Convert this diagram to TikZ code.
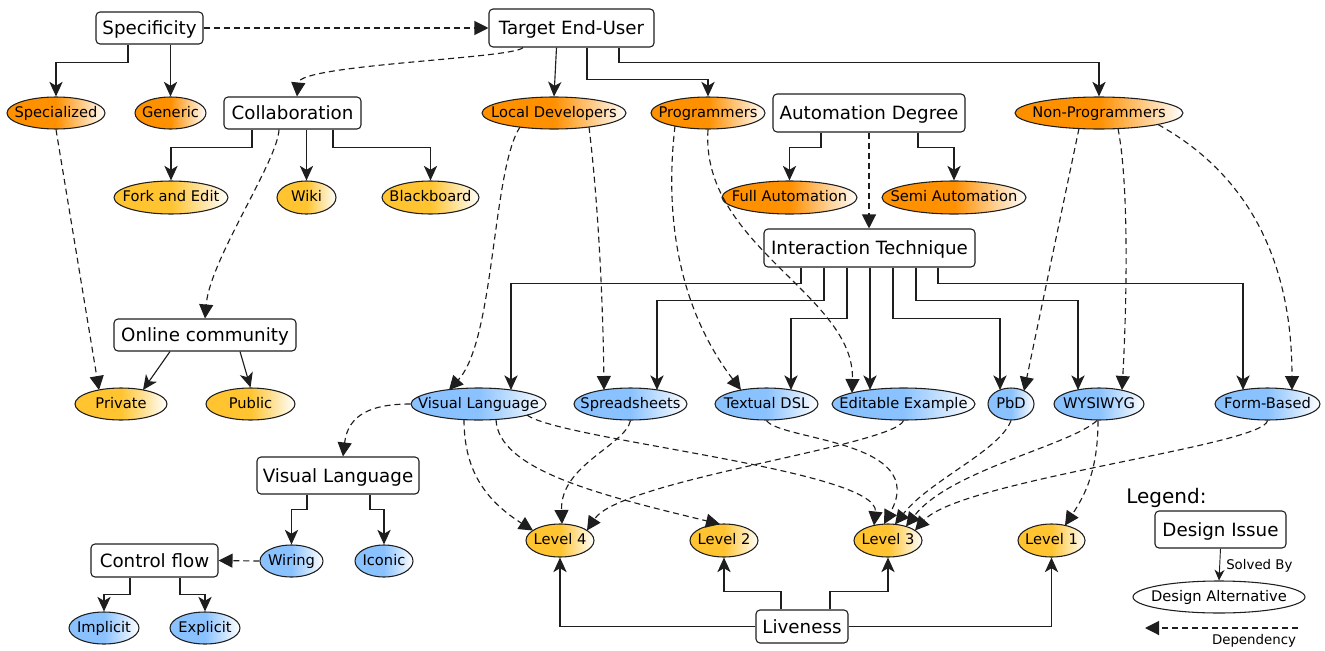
\documentclass[tikz,border=0pt]{standalone}
\usepackage{fontspec}
\setmainfont{DejaVu Sans}
\usetikzlibrary{arrows.meta,shapes.geometric,calc}
\definecolor{orng}{RGB}{255,144,0}
\definecolor{ylw}{RGB}{255,196,48}
\definecolor{blu}{RGB}{138,194,255}
\definecolor{ln}{RGB}{30,30,30}
\pgfdeclarehorizontalshading{orgshade}{100bp}{color(0bp)=(orng); color(50bp)=(orng); color(75bp)=(white); color(100bp)=(white)}
\pgfdeclarehorizontalshading{ylwshade}{100bp}{color(0bp)=(ylw); color(50bp)=(ylw); color(75bp)=(white); color(100bp)=(white)}
\pgfdeclarehorizontalshading{blushade}{100bp}{color(0bp)=(blu); color(50bp)=(blu); color(75bp)=(white); color(100bp)=(white)}
\newcommand\pxu{0.75pt}
\tikzset{
  ibox/.style={draw=ln, line width=0.8pt, rounded corners=3pt, fill=white, inner sep=0pt,
    font=\fontsize{13.7}{16}\selectfont, text height=10.4pt, text depth=0pt, minimum height=32*\pxu},
  alt/.style={ellipse, draw=ln, line width=0.8pt, inner xsep=-90pt, inner ysep=-30pt,
    minimum height=32*\pxu, font=\fontsize{11}{13}\selectfont, text height=6.2pt, text depth=0pt},
  org/.style={alt, shade, shading=orgshade},
  ylwn/.style={alt, shade, shading=ylwshade},
  blun/.style={alt, shade, shading=blushade},
  sarr/.style={draw=ln, line width=0.85pt, -{Stealth[length=11pt,width=10pt,inset=3pt]}},
  darr/.style={draw=ln, line width=0.85pt, dash pattern=on 4.5pt off 3pt, -{Triangle[length=10.5pt,width=10.5pt]}},
}
\begin{document}
\begin{tikzpicture}[x=0.75pt,y=-0.75pt]
\useasboundingbox (0,0) rectangle (1325,650);
% ---- design issues (boxes)
\node[ibox, minimum width=107*\pxu] (spec) at (149.5,28) {Specificity};
\node[ibox, minimum width=165*\pxu, minimum height=38*\pxu] (teu) at (571.5,28) {Target End-User};
\node[ibox, minimum width=137*\pxu] (collab) at (292.5,113) {Collaboration};
\node[ibox, minimum width=192*\pxu, minimum height=38*\pxu] (auto) at (869,113) {Automation Degree};
\node[ibox, minimum width=211*\pxu, minimum height=38*\pxu] (it) at (869.5,248) {Interaction Technique};
\node[ibox, minimum width=182*\pxu] (online) at (205,335) {Online community};
\node[ibox, minimum width=162*\pxu, minimum height=37*\pxu] (vlbox) at (338,475.5) {Visual Language};
\node[ibox, minimum width=127*\pxu, minimum height=33*\pxu] (cflow) at (154.5,560.5) {Control flow};
\node[ibox, minimum width=92*\pxu, minimum height=33*\pxu] (live) at (802,626.5) {Liveness};
% ---- alternatives (ellipses)
\node[org, minimum width=98*\pxu] (specialized) at (56,113) {Specialized};
\node[org, minimum width=71*\pxu] (generic) at (170.5,113) {Generic};
\node[org, minimum width=144*\pxu] (localdev) at (554,113) {Local Developers};
\node[org, minimum width=114*\pxu] (programmers) at (708,113) {Programmers};
\node[org, minimum width=168*\pxu] (nonprog) at (1099,113) {Non-Programmers};
\node[ylwn, minimum width=114*\pxu, minimum height=33*\pxu] (fork) at (171,197.5) {Fork and Edit};
\node[ylwn, minimum width=59*\pxu, minimum height=33*\pxu] (wiki) at (306.5,197.5) {Wiki};
\node[ylwn, minimum width=97*\pxu, minimum height=33*\pxu] (blackboard) at (430.5,197.5) {Blackboard};
\node[org, minimum width=135*\pxu, minimum height=33*\pxu] (fullauto) at (789.5,197.5) {Full Automation};
\node[org, minimum width=144*\pxu, minimum height=33*\pxu] (semiauto) at (954,197.5) {Semi Automation};
\node[ylwn, minimum width=92*\pxu] (private) at (121,404) {Private};
\node[ylwn, minimum width=89*\pxu] (public) at (250.5,404) {Public};
\node[blun, minimum width=135*\pxu] (vl) at (478.5,404) {Visual Language};
\node[blun, minimum width=113*\pxu] (spread) at (630.5,404) {Spreadsheets};
\node[blun, minimum width=103*\pxu] (tdsl) at (766.5,404) {Textual DSL};
\node[blun, minimum width=143*\pxu] (editable) at (903.5,404) {Editable Example};
\node[blun, minimum width=46*\pxu] (pbd) at (1011,404) {PbD};
\node[blun, minimum width=90*\pxu] (wysiwyg) at (1099,404) {WYSIWYG};
\node[blun, minimum width=105*\pxu] (formbased) at (1267.5,404) {Form-Based};
\node[blun, minimum width=63*\pxu] (wiring) at (291.5,561) {Wiring};
\node[blun, minimum width=58*\pxu] (iconic) at (384,561) {Iconic};
\node[blun, minimum width=70*\pxu] (implicit) at (104,628) {Implicit};
\node[blun, minimum width=70*\pxu] (explicit) at (205,628) {Explicit};
\node[ylwn, minimum width=68*\pxu, minimum height=33*\pxu] (level4) at (560,540.5) {Level 4};
\node[ylwn, minimum width=68*\pxu, minimum height=33*\pxu] (level2) at (724,540.5) {Level 2};
\node[ylwn, minimum width=68*\pxu, minimum height=33*\pxu] (level3) at (888,540.5) {Level 3};
\node[ylwn, minimum width=67*\pxu, minimum height=33*\pxu] (level1) at (1051.5,540.5) {Level 1};
% ---- legend
\node[anchor=west, inner sep=0pt, font=\fontsize{15}{18}\selectfont, text height=11pt, text depth=0pt] (legend) at (1126,496) {Legend:};
\node[ibox, minimum width=131*\pxu, minimum height=37*\pxu] (dissue) at (1220.5,529.5) {Design Issue};
\node[alt, fill=white, minimum width=172*\pxu] (dalt) at (1219,597) {Design Alternative};
\coordinate (depA) at (1298,628);
\coordinate (depB) at (1145,628);

% ---- solid edges (solved by)
\draw[sarr] ($(spec.south)+(-21.5,0)$) -- ++(0,18) -| (specialized.north);
\draw[sarr] (generic.north |- spec.south) -- (generic.north);
\draw[sarr] ($(teu.south)+(-15,0)$) -- (localdev.north);
\draw[sarr] ($(teu.south)+(15.5,0)$) -- ++(0,32) -| (programmers.north);
\draw[sarr] ($(teu.south)+(47.5,0)$) -- ++(0,15) -| (nonprog.north);
\draw[sarr] ($(collab.south)+(-40.5,0)$) -- ++(0,18) -| (fork.north);
\draw[sarr] (wiki.north |- collab.south) -- (wiki.north);
\draw[sarr] ($(collab.south)+(40.5,0)$) -- ++(0,18) -| (blackboard.north);
\draw[sarr] ($(online.south)+(-35,0)$) -- ($(private.center)+(22,-14)$);
\draw[sarr] ($(online.south)+(35,0)$) -- (public.north);
\draw[sarr] ($(auto.south)+(-48,0)$) -- ++(0,15) -| (fullauto.north);
\draw[sarr] ($(auto.south)+(49,0)$) -- ++(0,15) -| (semiauto.north);
\draw[sarr] ($(it.south)+(-68.5,0)$) -- ++(0,16) -| ($(vl.center)+(32.5,-14)$);
\draw[sarr] ($(it.south)+(-45.5,0)$) -- ++(0,33) -| ($(spread.center)+(26.5,-14)$);
\draw[sarr] ($(it.south)+(-22.5,0)$) -- ++(0,51) -| ($(tdsl.center)+(24.5,-14)$);
\coordinate (edt) at ($(editable.center)+(-33.5,-14)$);
\draw[sarr] (edt |- it.south) -- (edt);
\draw[sarr] ($(it.south)+(23.5,0)$) -- ++(0,51) -| ($(pbd.center)+(-11,-14)$);
\draw[sarr] ($(it.south)+(46.5,0)$) -- ++(0,33) -| ($(wysiwyg.center)+(-21,-14)$);
\draw[sarr] ($(it.south)+(68.5,0)$) -- ++(0,16) -| ($(formbased.center)+(-24.5,-14)$);
\draw[sarr] ($(vlbox.south)+(-31,0)$) -- ++(0,15) -| (wiring.north);
\draw[sarr] ($(vlbox.south)+(32,0)$) -- ++(0,15) -| (iconic.north);
\draw[sarr] ($(cflow.south)+(-24.5,0)$) -- ++(0,17) -| (implicit.north);
\draw[sarr] ($(cflow.south)+(25.5,0)$) -- ++(0,17) -| (explicit.north);
\draw[sarr] (live.west) -| (level4.south);
\draw[sarr] ($(live.north)+(-21,0)$) -- ++(0,-18) -| (level2.south);
\draw[sarr] ($(live.north)+(28,0)$) -- ++(0,-18) -| (level3.south);
\draw[sarr] (live.east) -| (level1.south);

% ---- dashed edges (dependencies)
\draw[darr] (spec.east) -- (teu.west);
\draw[darr] ($(teu.south)+(-48.5,0)$) .. controls +(-8,11) and +(3,-32) .. ($(collab.north)+(4.5,0)$);
\draw[darr] ($(collab.south)+(-13.5,0)$) .. controls +(-1,31) and +(5,-59) .. (online.north);
\draw[darr] (specialized.south) -- ($(private.center)+(-22,-14)$);
\draw[darr] (auto.south) -- (auto.south |- it.north);
\draw[darr] ($(localdev.center)+(-34,14)$) .. controls +(-28,43) and +(46,-50) .. ($(vl.center)+(-29.5,-14)$);
\draw[darr] ($(localdev.center)+(35,14)$) .. controls +(9,73) and +(-1,-90) .. ($(spread.center)+(-26.5,-14)$);
\draw[darr] ($(programmers.center)+(-33,13)$) .. controls +(-11,94) and +(-61,-80) .. ($(tdsl.center)+(-25.5,-14)$);
\draw[darr] (programmers.south) .. controls +(-8,116) and +(3,-98) .. ($(editable.center)+(-51.5,-11)$);
\draw[darr] ($(nonprog.center)+(-20,15.5)$) -- ($(pbd.center)+(13,-13)$);
\draw[darr] ($(nonprog.center)+(19,15.5)$) .. controls +(12,61.5) and +(4,-70) .. ($(wysiwyg.center)+(23,-14)$);
\draw[darr] ($(nonprog.center)+(59,11.5)$) .. controls +(82,45.5) and +(0,-140) .. ($(formbased.center)+(24.5,-14)$);
\draw[darr] (vl.west) .. controls +(-39,0) and +(5,-42) .. ($(vlbox.north)+(5,0)$);
\draw[darr] (wiring.west) -- (cflow.east);
\draw[darr] ($(vl.center)+(-14.5,15.5)$) .. controls +(0,50.5) and +(-48,-30.5) .. ($(level4.center)+(-27,-10)$);
\draw[darr] ($(vl.center)+(17.5,15.5)$) .. controls +(2,50.5) and +(-120,-29) .. ($(level2.center)+(-4,-16.4)$);
\draw[darr] ($(vl.center)+(48.5,11)$) .. controls +(33,25) and +(6,-55.5) .. ($(level3.center)+(-14,-15)$);
\draw[darr] (spread.south) .. controls +(-5.5,25) and +(-2,-59) .. ($(level4.center)+(2,-16.5)$);
\draw[darr] (tdsl.south) .. controls +(13.5,20) and +(46,-84) .. ($(level3.center)+(-4,-16.4)$);
\draw[darr] (editable.south) .. controls +(-8.5,25) and +(33,-50.5) .. ($(level4.center)+(27,-10)$);
\draw[darr] (pbd.south) .. controls +(-11,30) and +(35,-44.4) .. ($(level3.center)+(7,-16.1)$);
\draw[darr] ($(wysiwyg.south)+(-2,0)$) .. controls +(-27,25) and +(44,-56.5) .. ($(level3.center)+(18,-14)$);
\draw[darr] ($(wysiwyg.south)+(-1,0)$) .. controls +(0,50) and +(20,-30.5) .. ($(level1.center)+(13.5,-15)$);
\draw[darr] (formbased.south) .. controls +(-2.5,25) and +(45,-50.5) .. ($(level3.center)+(27,-10)$);

% ---- legend edges
\draw[sarr, line width=0.7pt, -{Stealth[length=8pt,width=7.5pt,inset=2.5pt]}] (dissue.south) -- (dalt.north);
\node[anchor=west, inner sep=0pt, font=\fontsize{10}{12}\selectfont, text height=7pt, text depth=0pt] (solvedby) at (1226,565) {Solved By};
\draw[darr] (depA) -- (depB);
\node[font=\fontsize{10}{12}\selectfont, inner sep=0pt, text height=7pt, text depth=0pt] (deplabel) at (1254,640) {Dependency};
\end{tikzpicture}
\end{document}
